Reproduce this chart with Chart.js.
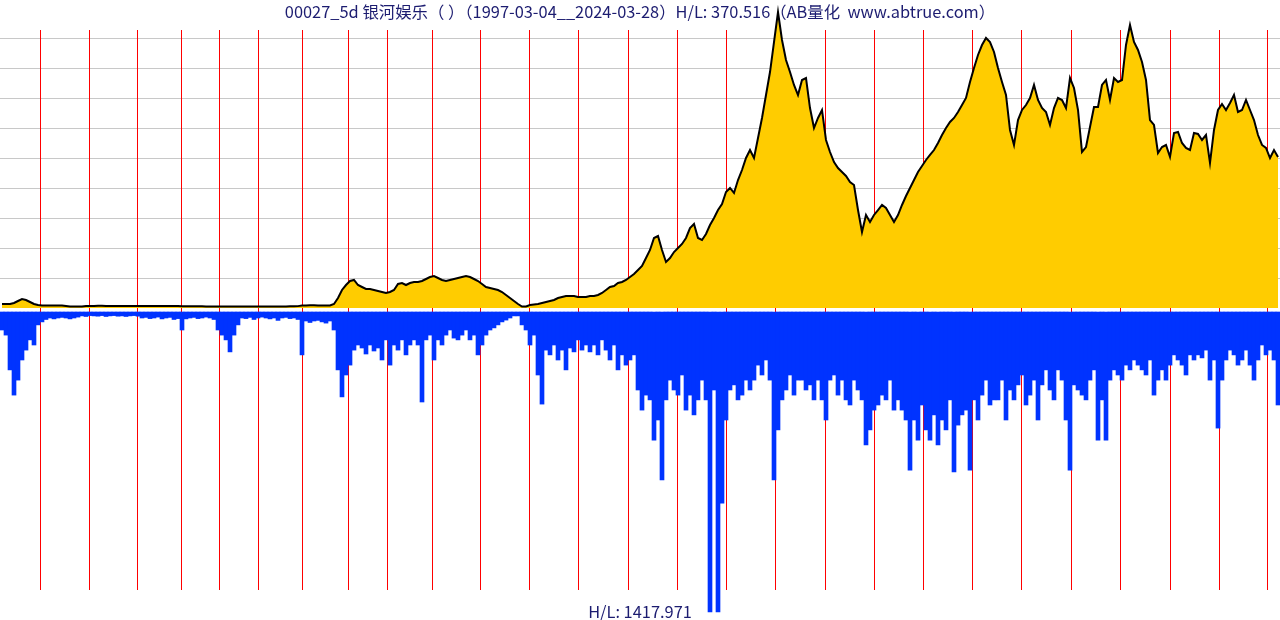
<!DOCTYPE html>
<html>
<head>
<meta charset="utf-8">
<script src="https://cdn.jsdelivr.net/npm/chart.js@4"></script>
<style>
  html, body { margin: 0; padding: 0; background: #fff; }
  #wrap { position: relative; width: 1280px; height: 620px; overflow: hidden; }
  #c { position: absolute; left: 0; top: 0; }
  .lbl { position: absolute; left: 0; width: 1280px; text-align: center; white-space: pre;
         font-family: "Noto Sans CJK SC", "Noto Sans", sans-serif; font-size: 16.4px; color: #1c1c70; line-height: 20px; }
</style>
</head>
<body>
<div id="wrap">
  <canvas id="c" width="1280" height="620"></canvas>
  <div class="lbl" id="title" style="top:1px;"></div>
  <div class="lbl" id="foot" style="top:601px;"></div>
</div>
<script>
// ---- data ----
const titleText = "00027_5d 银河娱乐（ ）（1997-03-04__2024-03-28）H/L: 370.516（AB量化  www.abtrue.com）";
const footText = "H/L: 1417.971";
const SAMPLE_STEP = 4;            // weekly bars per sample
const TOTAL_BARS = 1280;          // number of 5-day bars on the axis
const yearLabels = ["1998","1999","2000","2001","2002","2003","2004","2005","2006","2007","2008","2009","2010","2011","2012","2013","2014","2015","2016","2017","2018","2019","2020","2021","2022","2023","2024"];
const yearStartBar = [40,89,137,181,219,258,302,348,387,432,480,529,578,628,677,726,775,825,874,923,972,1021,1071,1120,1170,1219,1267];
const priceGrid = [8,16,24,32,40,48,56,64,72];

// price (HK$, bar high) sampled every 4 bars
const priceVals = [
1.07,1.07,1.07,1.33,1.87,2.4,2.13,1.6,1.07,0.8,
0.67,0.67,0.67,0.67,0.67,0.67,0.53,0.4,0.4,0.4,
0.4,0.53,0.53,0.53,0.6,0.6,0.53,0.53,0.53,0.5,
0.5,0.53,0.53,0.53,0.5,0.5,0.5,0.53,0.53,0.53,
0.53,0.5,0.5,0.5,0.5,0.47,0.47,0.45,0.45,0.45,
0.45,0.4,0.4,0.4,0.4,0.42,0.42,0.4,0.4,0.4,
0.38,0.38,0.38,0.4,0.4,0.4,0.42,0.42,0.4,0.4,
0.4,0.42,0.45,0.45,0.5,0.67,0.67,0.7,0.7,0.67,
0.67,0.67,0.67,1.07,2.67,4.8,6.13,7.2,7.47,6.13,
5.6,5.07,5.07,4.8,4.53,4.27,4.0,4.27,4.8,6.4,
6.67,6.13,6.67,6.93,6.93,7.2,7.73,8.27,8.53,8.0,
7.47,7.2,7.47,7.73,8.0,8.27,8.53,8.27,7.73,7.2,
6.4,5.6,5.33,5.07,4.8,4.27,3.47,2.67,1.87,1.07,
0.4,0.4,0.8,0.93,1.07,1.33,1.6,1.87,2.13,2.67,
2.93,3.2,3.2,3.2,2.93,2.93,2.93,3.2,3.2,3.47,
4.0,4.8,5.6,5.87,6.67,6.93,7.47,8.27,9.07,10.13,
11.2,13.33,15.47,18.67,19.2,15.47,12.27,13.33,14.93,16,
17.07,18.67,21.33,22.4,18.67,18.13,19.73,22.13,24,26.13,
27.73,30.93,32,30.67,34.13,36.8,40,42.13,40,45.33,
50.67,56.8,62.93,70.93,78.93,71.47,66.13,62.93,59.47,56.8,
60.8,61.33,53.33,48,50.67,52.8,44.8,41.6,38.93,37.33,
36.27,35.2,33.6,32.8,26.13,20.27,24.8,22.93,24.8,26.13,
27.47,26.67,24.8,22.93,24.8,27.47,29.87,32,34.13,36.27,
37.87,39.47,40.8,42.13,44,46.13,48,49.6,50.67,52.27,
54.13,56,60.27,64,67.47,70.13,72,70.93,68.27,64,
60.27,56.8,47.47,43.47,50.13,52.8,54.13,56,59.47,55.47,
53.33,52.27,48.8,53.33,56,55.47,53.33,61.33,58.67,52.8,
41.6,42.93,48.27,53.6,53.6,59.47,60.8,55.47,61.33,60.27,
60.8,70.13,75.47,70.93,68.8,65.6,60.8,50.13,48.8,41.33,
42.93,43.47,40.27,46.67,46.93,44,42.67,42.13,46.67,46.4,
44.8,46.13,38.67,47.47,52.8,54.4,52.8,54.67,56.8,52.27,
52.8,55.47,52.8,50.13,46.13,43.47,42.67,40,42.13,40.27
];

// volume (relative units, max = 100) sampled every 4 bars
const volumeVals = [
6,7.7,19.3,27.7,22.7,16,12.7,9.3,11,4.3,
3.3,2.5,2,2.3,2,1.8,2,2.3,2,1.7,
1.3,1.5,1.2,1.3,1.4,1.2,1.5,1.3,1.2,1.4,
1.3,1.5,1.3,1.2,1.4,2,1.8,2.2,2,1.7,
2.3,2,1.8,2.5,2.2,6,2.3,2,1.8,2.2,
2,1.7,2,2.5,6,7.7,9.3,13.3,7.7,4.3,
2,2.2,1.8,2.5,2,1.7,2,2.3,2,2.8,
2,1.8,2.2,2,2.5,14.3,3,3.5,3,2.8,
3.3,3.7,3,6,19.3,28.3,21,17.7,12.7,11,
12,14,11,13,12,16,9.3,17.7,11,12.7,
9.3,14.3,11,9.3,11,30,9.3,7.7,16,9.3,
11,7.7,6,8.7,9.3,7.7,6,9.3,7.7,14.3,
11,7.7,6,5.3,4.3,3.3,2.7,2,1.3,1.3,
4.3,6,11,7.7,21,30.7,12.7,14.3,11,16,
12.7,19.3,12,13.3,9.3,12.7,11,13.3,11,14.3,
9.3,12.7,16,11,19.3,14.3,17.7,16,14.3,26,
32.7,27.7,29.3,42.7,36,56,29.3,22.7,26,27.7,
21,32.7,27.7,34.3,29.3,22.7,29.3,100,26,100,
63.7,36,26,24.3,29.3,27.7,22.7,26,22.7,17.7,
21,16,22.7,56,39.3,29.3,26,21,27.7,22.7,
22.7,26,24.3,29.3,22.7,29.3,36,22.7,21,27.7,
22.7,29.3,31,22.7,26,29.3,44.3,39.3,32.7,31,
27.7,29.3,22.7,32.7,29.3,32.7,36,52.7,36,42.7,
31,39.3,42.7,34.3,44.3,36,39.3,29.3,53.3,37.7,
34.3,32.7,52.7,29.3,36,27.7,22.7,31,29.3,29.3,
22.7,36,26,29.3,24.3,21,31,27.7,22.7,36,
24.3,19.3,26,29.3,19.3,22.7,36,52.7,24.3,26,
27.7,29.3,22.7,19.3,42.7,29.3,42.7,22.7,19.3,21,
22.7,17.7,19.3,16,17.7,19.3,21,16,27.7,22.7,
19.3,22.7,17.7,14.3,16,17.7,21,14.3,16,14.3,
15.3,12.7,22.7,16,38.7,22.7,16,12.7,14.3,17.7,
16,12.7,17.7,22.7,16,11,14.3,12.7,16,31
];

// ---- build ----
document.getElementById('title').textContent = titleText;
document.getElementById('foot').textContent = footText;

const sampleBar = priceVals.map((_, i) => i * SAMPLE_STEP + SAMPLE_STEP / 2);
const pricePts = priceVals.map((v, i) => ({ x: sampleBar[i], y: v }));
const volPts = volumeVals.map((v, i) => ({ x: sampleBar[i], y: v }));

const decor = {
  id: 'decor',
  beforeDatasetsDraw(chart) {
    const ctx = chart.ctx, xs = chart.scales.x, yp = chart.scales.yP;
    ctx.save();
    ctx.lineWidth = 1;
    ctx.strokeStyle = '#c8c8c8';
    priceGrid.forEach(v => {
      const y = Math.round(yp.getPixelForValue(v)) + 0.5;
      ctx.beginPath(); ctx.moveTo(0, y); ctx.lineTo(chart.width, y); ctx.stroke();
    });
    ctx.strokeStyle = '#ff0000';
    yearStartBar.forEach(b => {
      const x = Math.round(xs.getPixelForValue(b)) + 0.5;
      ctx.beginPath(); ctx.moveTo(x, 30); ctx.lineTo(x, 590); ctx.stroke();
    });
    ctx.restore();
  }
};

new Chart(document.getElementById('c'), {
  data: {
    datasets: [
      { type: 'bar', label: 'volume', data: volPts, yAxisID: 'yV', backgroundColor: '#0033ff',
        borderWidth: 0, barPercentage: 1, categoryPercentage: 1, order: 2 },
      { type: 'line', label: 'price', data: pricePts, yAxisID: 'yP', borderColor: '#000000',
        borderWidth: 2, backgroundColor: '#ffcc00', fill: 'origin', pointRadius: 0, tension: 0, order: 1 }
    ]
  },
  options: {
    responsive: false, animation: false, devicePixelRatio: 1,
    layout: { padding: 0 },
    plugins: { legend: { display: false }, tooltip: { enabled: false }, title: { display: false } },
    scales: {
      x: { type: 'linear', min: 0, max: TOTAL_BARS, display: false, offset: false, grid: { offset: false } },
      yP: { type: 'linear', min: -83.2, max: 82.133, display: false },
      yV: { type: 'linear', min: -104, max: 102.667, reverse: true, display: false }
    }
  },
  plugins: [decor]
});
</script>
</body>
</html>
